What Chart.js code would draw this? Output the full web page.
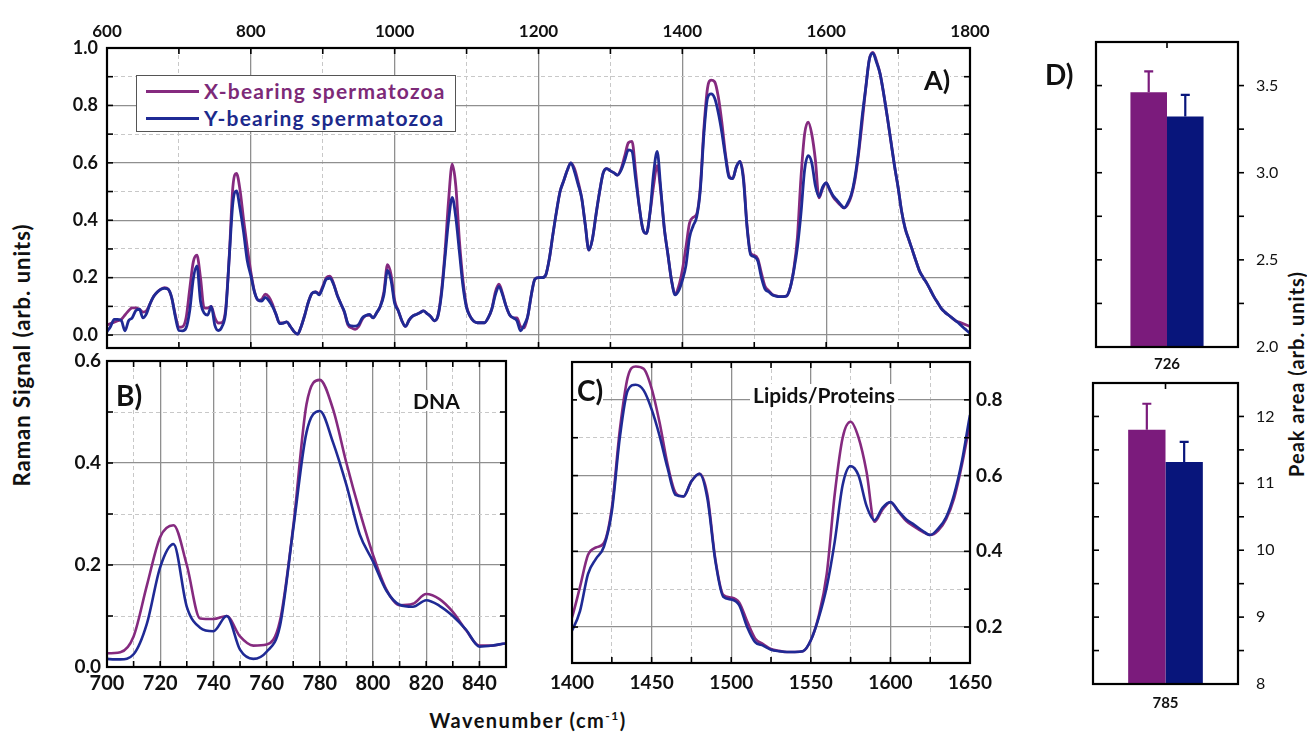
<!DOCTYPE html>
<html>
<head>
<meta charset="utf-8">
<script src="https://cdn.jsdelivr.net/npm/chart.js@4.4.0/dist/chart.umd.min.js"></script>
<style>
  html, body { margin: 0; padding: 0; background: #fff; }
  body { width: 1307px; height: 733px; position: relative; overflow: hidden;
         font-family: Lato, 'DejaVu Sans', sans-serif; color: #111; }
  canvas { position: absolute; }
  .lbl { position: absolute; font-weight: bold; line-height: 1; white-space: nowrap; background: #fff; }
  .rot { position: absolute; line-height: 1; white-space: nowrap; transform: translate(-50%, -50%) rotate(-90deg); }
  #legend { position: absolute; left: 136px; top: 75px; width: 318px; height: 55px;
            border: 1px solid #555; background: #fff; }
  #legend .row { position: absolute; left: 0; height: 22px; }
  #legend .swatch { position: absolute; left: 9px; top: 10px; width: 53px; height: 3px; }
  #legend .txt { position: absolute; left: 67px; top: 0; font-size: 21px; font-weight: bold;
                 letter-spacing: 1.2px; line-height: 22px; white-space: nowrap; }
</style>
</head>
<body>
<canvas id="panelA"></canvas>
<canvas id="panelB"></canvas>
<canvas id="panelC"></canvas>
<canvas id="panelD1"></canvas>
<canvas id="panelD2"></canvas>

<div id="legend">
  <div class="row" style="top:4px"><div class="swatch" style="background:#852a7f"></div><div class="txt" style="color:#7d2a78">X-bearing spermatozoa</div></div>
  <div class="row" style="top:31px"><div class="swatch" style="background:#1f2a95"></div><div class="txt" style="color:#1c2a8c">Y-bearing spermatozoa</div></div>
</div>

<div class="lbl" style="left:924px; top:66px; font-size:27px">A)</div>
<div class="lbl" style="left:116px; top:381px; font-size:28px">B)</div>
<div class="lbl" style="left:577px; top:376px; font-size:28px">C)</div>
<div class="lbl" style="left:1045px; top:60px; font-size:28px">D)</div>
<div class="lbl" style="left:413px; top:390px; font-size:21px">DNA</div>
<div class="lbl" style="left:750px; top:384px; font-size:21px; padding:0 3px">Lipids/Proteins</div>

<div class="rot" style="left:22px; top:355px; font-size:22px; font-weight:bold; letter-spacing:1px">Raman Signal (arb. units)</div>
<div class="rot" style="left:1296px; top:374px; font-size:20px; font-weight:bold; letter-spacing:1px">Peak area (arb. units)</div>
<div class="lbl" style="left:528px; top:710px; font-size:20px; letter-spacing:1.5px; transform:translateX(-50%)">Wavenumber (cm<sup style="font-size:12px">-1</sup>)</div>

<script>
// Raman spectra (arb. units)
const wavenumber = [
  600, 605, 610, 615, 620, 625, 630, 635, 640, 645, 650, 655, 660, 665, 670, 675, 680, 685, 690, 695,
  700, 705, 710, 715, 720, 725, 730, 735, 740, 745, 750, 755, 760, 765, 770, 775, 780, 785, 790, 795,
  800, 805, 810, 815, 820, 825, 830, 835, 840, 845, 850, 855, 860, 865, 870, 875, 880, 885, 890, 895,
  900, 905, 910, 915, 920, 925, 930, 935, 940, 945, 950, 955, 960, 965, 970, 975, 980, 985, 990, 995,
  1000, 1005, 1010, 1015, 1020, 1025, 1030, 1035, 1040, 1045, 1050, 1055, 1060, 1065, 1070, 1075, 1080, 1085, 1090, 1095,
  1100, 1105, 1110, 1115, 1120, 1125, 1130, 1135, 1140, 1145, 1150, 1155, 1160, 1165, 1170, 1175, 1180, 1185, 1190, 1195,
  1200, 1205, 1210, 1215, 1220, 1225, 1230, 1235, 1240, 1245, 1250, 1255, 1260, 1265, 1270, 1275, 1280, 1285, 1290, 1295,
  1300, 1305, 1310, 1315, 1320, 1325, 1330, 1335, 1340, 1345, 1350, 1355, 1360, 1365, 1370, 1375, 1380, 1385, 1390, 1395,
  1400, 1405, 1410, 1415, 1420, 1425, 1430, 1435, 1440, 1445, 1450, 1455, 1460, 1465, 1470, 1475, 1480, 1485, 1490, 1495,
  1500, 1505, 1510, 1515, 1520, 1525, 1530, 1535, 1540, 1545, 1550, 1555, 1560, 1565, 1570, 1575, 1580, 1585, 1590, 1595,
  1600, 1605, 1610, 1615, 1620, 1625, 1630, 1635, 1640, 1645, 1650, 1655, 1660, 1665, 1670, 1675, 1680, 1685, 1690, 1695,
  1700, 1705, 1710, 1715, 1720, 1725, 1730, 1735, 1740, 1745, 1750, 1755, 1760, 1765, 1770, 1775, 1780, 1785, 1790, 1795,
  1800
];

const xBearing = [
  0.035, 0.04, 0.045, 0.05, 0.055, 0.07, 0.085, 0.095, 0.095, 0.09, 0.08, 0.085, 0.11, 0.135, 0.15, 0.16, 0.165, 0.16, 0.13, 0.07,
  0.027, 0.029, 0.06, 0.16, 0.255, 0.278, 0.2, 0.095, 0.094, 0.1, 0.06, 0.042, 0.044, 0.09, 0.275, 0.515, 0.563, 0.505, 0.40, 0.305,
  0.22, 0.152, 0.121, 0.124, 0.143, 0.133, 0.108, 0.072, 0.042, 0.042, 0.046, 0.03, 0.012, 0.003, 0.03, 0.07, 0.115, 0.145, 0.15, 0.145,
  0.17, 0.2, 0.205, 0.18, 0.14, 0.11, 0.08, 0.035, 0.025, 0.02, 0.03, 0.055, 0.068, 0.07, 0.06, 0.078, 0.1, 0.15, 0.245, 0.21,
  0.12, 0.085, 0.05, 0.03, 0.052, 0.066, 0.072, 0.078, 0.084, 0.075, 0.065, 0.05, 0.065, 0.15, 0.29, 0.47, 0.595, 0.52, 0.33, 0.19,
  0.1, 0.065, 0.048, 0.043, 0.043, 0.043, 0.06, 0.09, 0.15, 0.177, 0.145, 0.1, 0.07, 0.06, 0.06, 0.03, 0.025, 0.065, 0.14, 0.195,
  0.2, 0.2, 0.209, 0.265, 0.35, 0.43, 0.5, 0.537, 0.574, 0.6, 0.58, 0.535, 0.478, 0.385, 0.296, 0.335, 0.42, 0.5, 0.565, 0.58,
  0.572, 0.565, 0.557, 0.58, 0.625, 0.67, 0.675, 0.57, 0.45, 0.37, 0.354, 0.425, 0.52, 0.59, 0.5, 0.37, 0.28, 0.19, 0.145, 0.17,
  0.226, 0.306, 0.39, 0.41, 0.422, 0.515, 0.72, 0.86, 0.888, 0.882, 0.83, 0.74, 0.63, 0.555, 0.545, 0.585, 0.605, 0.55, 0.38, 0.285,
  0.278, 0.265, 0.215, 0.17, 0.155, 0.142, 0.137, 0.134, 0.134, 0.136, 0.165, 0.23, 0.34, 0.55, 0.7, 0.742, 0.7, 0.61, 0.478, 0.51,
  0.53, 0.505, 0.48, 0.465, 0.452, 0.443, 0.455, 0.485, 0.54, 0.63, 0.74, 0.86, 0.96, 0.985, 0.955, 0.91, 0.84, 0.76, 0.675, 0.59,
  0.515, 0.43, 0.37, 0.332, 0.295, 0.257, 0.222, 0.2, 0.18, 0.157, 0.133, 0.113, 0.093, 0.08, 0.07, 0.06, 0.05, 0.045, 0.04, 0.035,
  0.03
];

const yBearing = [
  0.012, 0.03, 0.055, 0.055, 0.05, 0.015, 0.05, 0.06, 0.085, 0.09, 0.06, 0.075, 0.11, 0.135, 0.15, 0.16, 0.163, 0.16, 0.13, 0.064,
  0.016, 0.015, 0.025, 0.085, 0.196, 0.241, 0.118, 0.077, 0.07, 0.1, 0.034, 0.016, 0.03, 0.08, 0.27, 0.46, 0.502, 0.44, 0.357, 0.26,
  0.207, 0.15, 0.122, 0.118, 0.131, 0.12, 0.1, 0.073, 0.04, 0.042, 0.046, 0.03, 0.012, 0.003, 0.03, 0.07, 0.115, 0.145, 0.15, 0.14,
  0.165, 0.195, 0.198, 0.177, 0.14, 0.11, 0.082, 0.04, 0.032, 0.031, 0.037, 0.06, 0.068, 0.072, 0.06, 0.078, 0.1, 0.14, 0.225, 0.19,
  0.11, 0.085, 0.05, 0.03, 0.052, 0.066, 0.072, 0.078, 0.084, 0.075, 0.065, 0.05, 0.065, 0.14, 0.27, 0.4, 0.48, 0.41, 0.29, 0.17,
  0.095, 0.065, 0.048, 0.043, 0.043, 0.043, 0.06, 0.09, 0.14, 0.17, 0.14, 0.1, 0.07, 0.06, 0.05, 0.015, 0.035, 0.065, 0.14, 0.195,
  0.2, 0.2, 0.209, 0.265, 0.35, 0.43, 0.5, 0.537, 0.574, 0.6, 0.57, 0.525, 0.478, 0.385, 0.296, 0.335, 0.42, 0.5, 0.565, 0.58,
  0.572, 0.565, 0.557, 0.575, 0.61, 0.645, 0.64, 0.545, 0.45, 0.37, 0.354, 0.425, 0.563, 0.64, 0.51, 0.37, 0.28, 0.19, 0.14, 0.155,
  0.191, 0.242, 0.34, 0.38, 0.412, 0.505, 0.70, 0.825, 0.84, 0.825, 0.775, 0.705, 0.62, 0.549, 0.545, 0.585, 0.605, 0.54, 0.375, 0.28,
  0.273, 0.258, 0.2, 0.16, 0.151, 0.14, 0.136, 0.134, 0.134, 0.136, 0.165, 0.225, 0.306, 0.425, 0.575, 0.625, 0.6, 0.52, 0.482, 0.515,
  0.53, 0.507, 0.484, 0.47, 0.455, 0.443, 0.46, 0.49, 0.55, 0.64, 0.76, 0.86, 0.96, 0.982, 0.95, 0.91, 0.84, 0.76, 0.675, 0.59,
  0.515, 0.43, 0.37, 0.332, 0.295, 0.257, 0.222, 0.2, 0.18, 0.157, 0.133, 0.113, 0.093, 0.08, 0.07, 0.06, 0.05, 0.04, 0.028, 0.017,
  0.006
];

// Panel D: integrated peak areas
const bandLabels = ['726', '785'];
const xBearingArea = [3.462, 11.80];
const yBearingArea = [3.322, 11.32];
const xBearingErr = [0.12, 0.39];
const yBearingErr = [0.125, 0.30];

const PURPLE = '#852a7f';
const BLUE = '#1f2a95';
const PURPLE_BAR = '#7b1b7c';
const BLUE_BAR = '#08157b';
const GRID_MAJOR = '#8f8f8f';
const GRID_MINOR = '#c8c8c8';
const FONT = "Lato, 'DejaVu Sans', sans-serif";

function isMult(v, step) {
  const r = v / step;
  return Math.abs(r - Math.round(r)) < 1e-6;
}

// box round the plot area, with short tick marks pointing in (or out)
const framePlugin = {
  id: 'frame',
  afterDatasetsDraw(chart, args, opts) {
    const { ctx, chartArea: a } = chart;
    const len = opts.len || 6;
    ctx.save();
    ctx.strokeStyle = '#000';
    ctx.lineWidth = 1.6;
    const mark = (side, dir) => {
      const horiz = side === 'top' || side === 'bottom';
      const scale = horiz ? chart.scales.x : chart.scales.y;
      scale.ticks.forEach(t => {
        const p = scale.getPixelForValue(t.value);
        if (horiz && (p < a.left + 1 || p > a.right - 1)) return;
        if (!horiz && (p < a.top + 1 || p > a.bottom - 1)) return;
        const s = dir === 'in' ? 1 : -1;
        ctx.beginPath();
        if (side === 'top') { ctx.moveTo(p, a.top); ctx.lineTo(p, a.top + s * len); }
        if (side === 'bottom') { ctx.moveTo(p, a.bottom); ctx.lineTo(p, a.bottom - s * len); }
        if (side === 'left') { ctx.moveTo(a.left, p); ctx.lineTo(a.left + s * len, p); }
        if (side === 'right') { ctx.moveTo(a.right, p); ctx.lineTo(a.right - s * len, p); }
        ctx.stroke();
      });
    };
    (opts.inner || []).forEach(s => mark(s, 'in'));
    (opts.outer || []).forEach(s => mark(s, 'out'));
    ctx.lineWidth = 2.2;
    ctx.strokeRect(a.left, a.top, a.right - a.left, a.bottom - a.top);
    ctx.restore();
  }
};

// error bars on top of the peak-area bars
const errorBarPlugin = {
  id: 'errorBars',
  afterDatasetsDraw(chart, args, opts) {
    if (!opts.errors) return;
    const { ctx } = chart;
    const yScale = chart.scales.y;
    chart.data.datasets.forEach((ds, i) => {
      const bar = chart.getDatasetMeta(i).data[0];
      const top = yScale.getPixelForValue(ds.data[0] + opts.errors[i]);
      ctx.save();
      ctx.strokeStyle = ds.backgroundColor;
      ctx.lineWidth = 2.2;
      ctx.beginPath();
      ctx.moveTo(bar.x, bar.y);
      ctx.lineTo(bar.x, top);
      ctx.moveTo(bar.x - 4.5, top);
      ctx.lineTo(bar.x + 4.5, top);
      ctx.stroke();
      ctx.restore();
    });
  }
};

Chart.register(framePlugin, errorBarPlugin);

function placeCanvas(id, area, m) {
  const c = document.getElementById(id);
  const w = area.r - area.l + m.l + m.r;
  const h = area.b - area.t + m.t + m.b;
  c.width = w;
  c.height = h;
  c.style.left = (area.l - m.l) + 'px';
  c.style.top = (area.t - m.t) + 'px';
  c.style.width = w + 'px';
  c.style.height = h + 'px';
  return c;
}

function gridAxis(o) {
  const horiz = o.position === 'top' || o.position === 'bottom';
  return {
    type: 'linear',
    position: o.position,
    min: o.min,
    max: o.max,
    afterFit: s => { if (horiz) s.height = o.size; else s.width = o.size; },
    ticks: {
      stepSize: o.step,
      includeBounds: false,
      autoSkip: false,
      maxTicksLimit: 100,
      maxRotation: 0,
      padding: o.pad,
      color: '#111',
      font: { family: FONT, size: o.fontSize, weight: 'bold' },
      callback: v => (isMult(v, o.labelStep) ? o.fmt(v) : '')
    },
    grid: {
      drawTicks: false,
      color: c => {
        if (!c.tick) return 'transparent';
        const v = c.tick.value;
        if (Math.abs(v - o.min) < 1e-9 || Math.abs(v - o.max) < 1e-9) return 'transparent';
        if (isMult(v, o.labelStep)) return GRID_MAJOR;
        if (isMult(v, o.step)) return GRID_MINOR;
        return 'transparent';
      },
      lineWidth: c => (c.tick && isMult(c.tick.value, o.labelStep) ? 1.3 : 1)
    },
    border: {
      display: false,
      dash: c => (c.tick && !isMult(c.tick.value, o.labelStep) ? [4, 3] : [])
    }
  };
}

function spectrum(values, color, order, width) {
  return {
    data: wavenumber.map((w, i) => ({ x: w, y: values[i] })),
    borderColor: color,
    borderWidth: width,
    pointRadius: 0,
    cubicInterpolationMode: 'monotone',
    fill: false,
    order: order
  };
}

function spectrumChart(id, area, m, xAxis, yAxis, padding, width) {
  const canvas = placeCanvas(id, area, m);
  return new Chart(canvas, {
    type: 'line',
    data: { datasets: [spectrum(xBearing, PURPLE, 1, width), spectrum(yBearing, BLUE, 0, width)] },
    options: {
      responsive: false,
      animation: false,
      events: [],
      layout: { padding: padding },
      plugins: {
        legend: { display: false },
        tooltip: { enabled: false },
        frame: { inner: ['top', 'bottom', 'left', 'right'], len: 6 }
      },
      scales: { x: gridAxis(xAxis), y: gridAxis(yAxis) }
    }
  });
}

const fmtInt = v => String(Math.round(v));
const fmt1 = v => v.toFixed(1);

// A) full spectrum
spectrumChart('panelA', { l: 107, r: 970, t: 48, b: 348 }, { l: 60, r: 30, t: 45, b: 30 },
  { position: 'top', min: 600, max: 1800, step: 100, labelStep: 200, size: 45, pad: 6, fontSize: 17, fmt: fmtInt },
  { position: 'left', min: -0.045, max: 1.0, step: 0.1, labelStep: 0.2, size: 60, pad: 9, fontSize: 18, fmt: fmt1 },
  { right: 30, bottom: 30 }, 2.8);

// B) DNA region
spectrumChart('panelB', { l: 107, r: 506, t: 361, b: 667 }, { l: 60, r: 10, t: 30, b: 40 },
  { position: 'bottom', min: 700, max: 850, step: 10, labelStep: 20, size: 40, pad: 5, fontSize: 20, fmt: fmtInt },
  { position: 'left', min: 0, max: 0.6, step: 0.1, labelStep: 0.2, size: 60, pad: 6, fontSize: 19, fmt: fmt1 },
  { right: 10, top: 30 }, 2.6);

// C) lipids / proteins region
spectrumChart('panelC', { l: 572, r: 970, t: 362, b: 663 }, { l: 30, r: 50, t: 30, b: 40 },
  { position: 'bottom', min: 1400, max: 1650, step: 25, labelStep: 50, size: 40, pad: 8, fontSize: 19, fmt: fmtInt },
  { position: 'right', min: 0.105, max: 0.9, step: 0.1, labelStep: 0.2, size: 50, pad: 6, fontSize: 19, fmt: fmt1 },
  { left: 30, top: 30 }, 2.6);

// D) peak areas
function areaChart(id, area, i, yMin, yMax, step, labelStep, fmt, xPad) {
  const m = { l: 10, r: 45, t: 30, b: 30 };
  const canvas = placeCanvas(id, area, m);
  return new Chart(canvas, {
    type: 'bar',
    data: {
      labels: [bandLabels[i]],
      datasets: [
        { data: [xBearingArea[i]], backgroundColor: PURPLE_BAR },
        { data: [yBearingArea[i]], backgroundColor: BLUE_BAR }
      ]
    },
    options: {
      responsive: false,
      animation: false,
      events: [],
      categoryPercentage: 0.515,
      barPercentage: 1.0,
      layout: { padding: { left: m.l, top: m.t } },
      plugins: {
        legend: { display: false },
        tooltip: { enabled: false },
        frame: { inner: ['left', 'top'], outer: ['right'], len: 6 },
        errorBars: { errors: [xBearingErr[i], yBearingErr[i]] }
      },
      scales: {
        x: {
          position: 'bottom',
          afterFit: s => { s.height = m.b; },
          grid: { display: false },
          border: { display: false },
          ticks: { padding: xPad, color: '#111', font: { family: FONT, size: 15, weight: 'bold' } }
        },
        y: {
          position: 'right',
          min: yMin,
          max: yMax,
          afterFit: s => { s.width = m.r; },
          grid: { display: false },
          border: { display: false },
          ticks: {
            stepSize: step,
            autoSkip: false,
            padding: 10,
            color: '#111',
            font: { family: FONT, size: 16 },
            callback: v => (isMult(v, labelStep) ? fmt(v) : '')
          }
        }
      }
    }
  });
}

areaChart('panelD1', { l: 1096, r: 1238, t: 42, b: 347 }, 0, 2.0, 3.75, 0.25, 0.5, fmt1, 0);
areaChart('panelD2', { l: 1093, r: 1238, t: 383, b: 684 }, 1, 8, 12.5, 0.5, 1, fmtInt, 2);
</script>
</body>
</html>
